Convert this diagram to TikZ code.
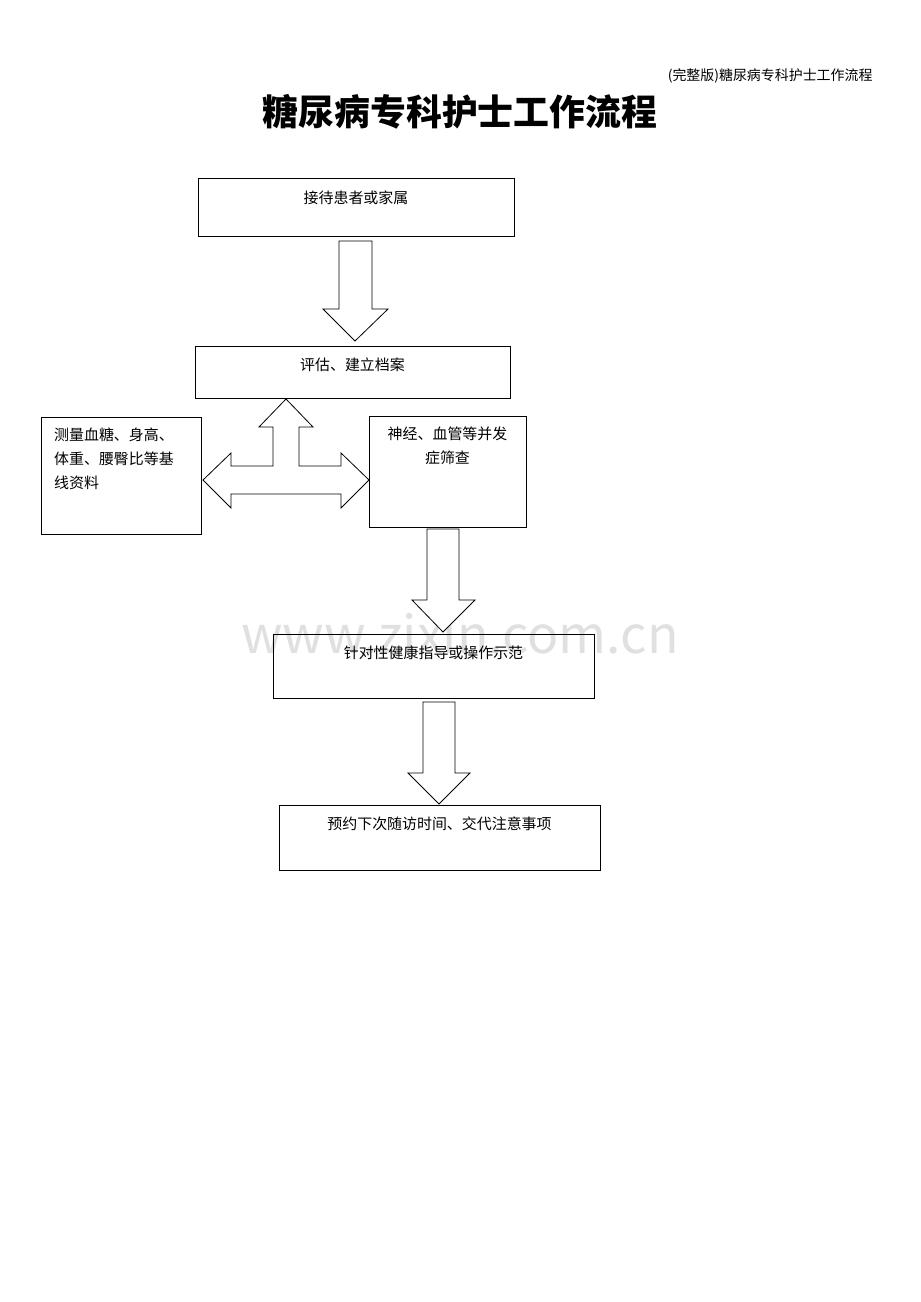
\documentclass[tikz,border=0pt]{standalone}
\usepackage{fontspec}
\setmainfont{Noto Sans CJK SC}
\usetikzlibrary{positioning}
\tikzset{
  box/.style={draw, thick, rectangle, inner sep=0pt},
  txt/.style={font=\fontsize{15}{24}\selectfont, inner sep=0pt, anchor=north},
  barrow/.style={draw, thick, fill=white, line join=miter}
}
\begin{document}
\begin{tikzpicture}[x=1bp,y=-1bp]
  \useasboundingbox (0,0) rectangle (920,1302);

  \node[anchor=east, font=\fontsize{14}{14}\selectfont] (head) at (876,76) {(完整版)糖尿病专科护士工作流程};
  \node[font=\fontsize{36}{36}\selectfont\bfseries] (title) at (460,112) {糖尿病专科护士工作流程};
  \node[text=black!12, font=\fontsize{52}{52}\selectfont] (wm) at (460,634) {www.zixin.com.cn};

  % boxes
  \node[box, minimum width=316bp, minimum height=58bp] (reception) at (356,207) {};
  \node[box, minimum width=315bp, minimum height=52bp] (assess) at (352.5,372) {};
  \node[box, minimum width=160bp, minimum height=117bp] (baseline) at (121,475.5) {};
  \node[box, minimum width=157bp, minimum height=111bp] (screen) at (447.5,471.5) {};
  \node[box, minimum width=321bp, minimum height=64bp] (guide) at (433.5,666) {};
  \node[box, minimum width=321bp, minimum height=65bp] (followup) at (439.5,837.5) {};

  % texts
  \node[txt, below=13bp of reception.north] {接待患者或家属};
  \node[txt, below=12bp of assess.north] {评估、建立档案};
  \node[txt, align=left, anchor=north west] at (54,428) {测量血糖、身高、\\体重、腰臀比等基\\线资料};
  \node[txt, align=center, below=11bp of screen.north] {神经、血管等并发\\症筛查};
  \node[txt, below=12bp of guide.north] {针对性健康指导或操作示范};
  \node[txt, below=12bp of followup.north] {预约下次随访时间、交代注意事项};

  % block arrows
  \draw[barrow] (339,241) -- (372,241) -- (372,309) -- (388,309) -- (355,341)
    -- (323,309) -- (339,309) -- cycle;
  \draw[barrow] (427,529) -- (459,529) -- (459,600) -- (475,600) -- (443,632)
    -- (412,600) -- (427,600) -- cycle;
  \draw[barrow] (423,702) -- (455,702) -- (455,773) -- (470,773) -- (439,804)
    -- (408,773) -- (423,773) -- cycle;
  \draw[barrow] (286,399) -- (313,427) -- (299,427) -- (299,466) -- (341,466)
    -- (341,453) -- (369,480) -- (341,508) -- (341,494) -- (231,494)
    -- (231,508) -- (203,480) -- (231,453) -- (231,466) -- (273,466)
    -- (273,427) -- (259,427) -- cycle;
\end{tikzpicture}
\end{document}
